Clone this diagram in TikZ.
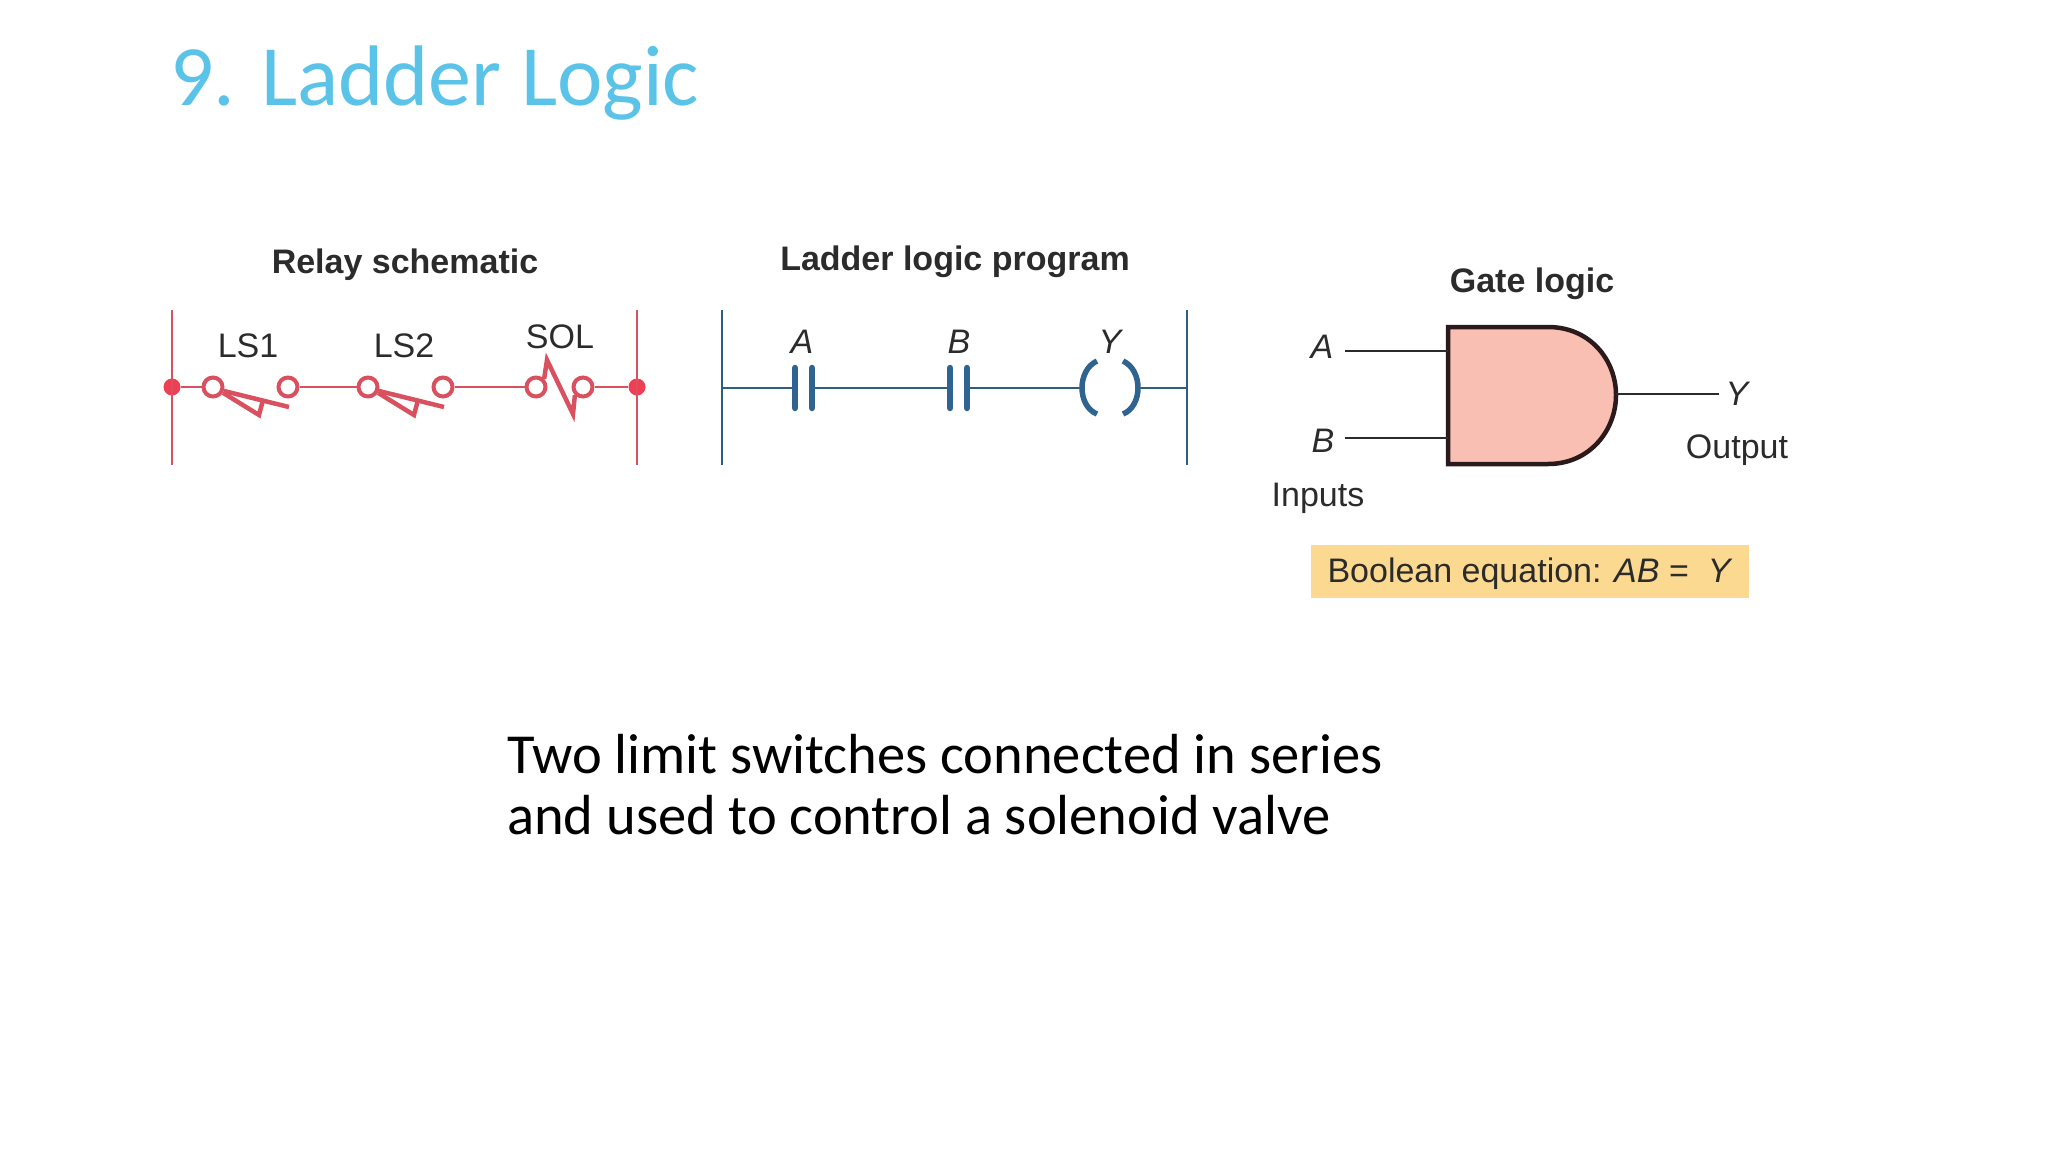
\documentclass[tikz,border=0pt]{standalone}
\usepackage{fontspec}
\setmainfont{Liberation Sans}
\newfontfamily\slidefont{Carlito}
\usetikzlibrary{positioning}
\definecolor{relayred}{HTML}{D9505F}
\definecolor{dotred}{HTML}{EE3F54}
\definecolor{ladderblue}{HTML}{2F6390}
\definecolor{railblue}{HTML}{2F5F7F}
\definecolor{titleblue}{HTML}{5CC3E8}
\definecolor{gatefill}{HTML}{F9BFB2}
\definecolor{gatedraw}{HTML}{2A1A1C}
\definecolor{eqfill}{HTML}{FBD990}
\definecolor{inktext}{HTML}{2B2B2B}
\tikzset{
  heading/.style={font=\fontsize{34}{38}\selectfont\bfseries, text=inktext, inner sep=0pt},
  label/.style={font=\fontsize{34}{38}\selectfont, text=inktext, inner sep=0pt},
  ilabel/.style={font=\fontsize{34}{38}\selectfont\itshape, text=inktext, inner sep=0pt},
  slidetext/.style={font=\slidefont\fontsize{56.5}{61}\selectfont, text=black, inner sep=0pt, align=left},
  rung/.style={draw=relayred, line width=2.6pt},
  blade/.style={draw=relayred, line width=4.5pt},
  term/.style={circle, draw=relayred, line width=4pt, minimum size=19pt, inner sep=0pt, fill=white},
  rail/.style={circle, fill=dotred, minimum size=17pt, inner sep=0pt},
  lrung/.style={draw=railblue, line width=2.6pt},
  plate/.style={draw=ladderblue, line width=6.5pt, line cap=round},
  coil/.style={draw=ladderblue, line width=5.5pt},
  wire/.style={draw=inktext, line width=2.6pt},
}
\begin{document}
\begin{tikzpicture}[x=1pt,y=-1pt]
  \useasboundingbox (0,0) rectangle (2048,1152);
  \node[font=\slidefont\fontsize{86}{90}\selectfont, text=titleblue, inner sep=0pt, anchor=base west] (title) at (170,105) {9. Ladder Logic};
  % relay schematic
  \node[heading] (relayhead) at (405,265) {Relay schematic};
  \coordinate (relaytl) at (172,310);
  \coordinate (relaybl) at (172,465);
  \coordinate (relaytr) at (637,310);
  \coordinate (relaybr) at (637,465);
  \node[rail] (relayl) at (172,387) {};
  \node[rail] (relayr) at (637,387) {};
  \node[term] (ls1a) at (213,387) {};
  \node[term] (ls1b) at (288,387) {};
  \node[term] (ls2a) at (368,387) {};
  \node[term] (ls2b) at (443,387) {};
  \node[term] (sola) at (536,387) {};
  \node[term] (solb) at (583,387) {};
  \node[label] (ls1) at (248,346) {LS1};
  \node[label] (ls2) at (404,346) {LS2};
  \node[label] (sol) at (560,337) {SOL};
  \path[rung]
  (relaytl) edge (relaybl)
  (relaytr) edge (relaybr)
  (relayl) edge (ls1a)
  (ls1b) edge (ls2a)
  (ls2b) edge (sola)
  (solb) edge (relayr)
  ;
  \foreach \a/\dx in {ls1a/0,ls2a/155}
  {
    \draw[blade] (\a.-20) -- (289+\dx,407);
    \draw[blade] (\a.-30) -- (259+\dx,415) -- (263+\dx,400);
  }
  \draw[blade] (sola.north east) -- (547,360) -- (573,414) -- (solb.south west);
  % ladder program
  \node[heading] (ladderhead) at (955,262) {Ladder logic program};
  \coordinate (laddertl) at (722,310);
  \coordinate (ladderbl) at (722,465);
  \coordinate (laddertr) at (1187,310);
  \coordinate (ladderbr) at (1187,465);
  \coordinate (ladderl) at (722,388);
  \coordinate (ladderr) at (1187,388);
  \coordinate (a1) at (795,388);
  \coordinate (a2) at (812,388);
  \coordinate (b1) at (950,388);
  \coordinate (b2) at (967,388);
  \coordinate (coill) at (1082,388);
  \coordinate (coilr) at (1138,388);
  \node[ilabel] (la) at (802,342) {A};
  \node[ilabel] (lb) at (959,342) {B};
  \node[ilabel] (ly) at (1110,342) {Y};
  \path[lrung]
  (laddertl) edge (ladderbl)
  (laddertr) edge (ladderbr)
  (ladderl) edge (a1)
  (a2) edge (b1)
  (b2) edge (coill)
  (coilr) edge (ladderr)
  ;
  \foreach \p in {a1,a2,b1,b2}
    \draw[plate] ([yshift=-20pt]\p) -- ([yshift=20pt]\p);
  \draw[coil] (1097,361) .. controls (1077,370) and (1077,406) .. (1097,414);
  \draw[coil] (1123,361) .. controls (1143,370) and (1143,406) .. (1123,414);
  % gate logic
  \node[heading] (gatehead) at (1532,284) {Gate logic};
  \draw[draw=gatedraw, fill=gatefill, line width=4.5pt]
    (1448,327) -- (1548,327) .. controls (1590,327) and (1616,360) .. (1616,395) .. controls (1616,430) and (1590,464) .. (1548,464) -- (1448,464) -- cycle;
  \coordinate (gatea) at (1448,351);
  \coordinate (gateb) at (1448,438);
  \coordinate (gatey) at (1616,394);
  \coordinate (ina) at (1345,351);
  \coordinate (inb) at (1345,438);
  \coordinate (outy) at (1719,394);
  \path[wire]
  (ina) edge (gatea)
  (inb) edge (gateb)
  (gatey) edge (outy)
  ;
  \node[ilabel] (ga) at (1322,347) {A};
  \node[ilabel] (gb) at (1323,441) {B};
  \node[ilabel] (gy) at (1737,394) {Y};
  \node[label] (output) at (1737,450) {Output};
  \node[label] (inputs) at (1318,498) {Inputs};
  \node[label, fill=eqfill, minimum width=438pt, minimum height=53pt, text height=26pt, text depth=4pt] (eq) at (1530,571) {Boolean equation: \textit{AB} = \ \textit{Y}};
  \node[slidetext, anchor=north west] (body) at (507,734) {Two limit switches connected in series\\and used to control a solenoid valve};
\end{tikzpicture}
\end{document}
